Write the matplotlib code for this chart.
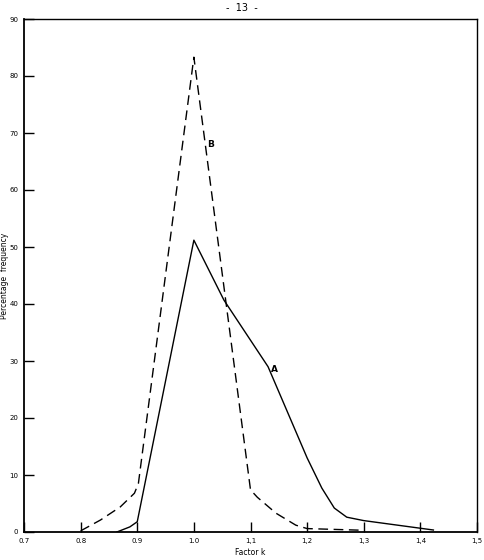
import matplotlib
matplotlib.use("Agg")
import matplotlib.pyplot as plt

# Curve A (solid)
a_x = [0.864, 0.887, 0.900, 1.000, 1.053, 1.131, 1.200, 1.226, 1.248, 1.270, 1.300, 1.423]
a_y = [0.0,   0.9,   1.8,   51.2,  40.7,  29.0,  13.0,  7.7,   4.2,   2.6,   2.0,   0.35]

# Curve B (dashed)
b_x = [0.800, 0.835, 0.870, 0.895, 0.902, 1.000, 1.100, 1.112, 1.145, 1.180, 1.200, 1.300]
b_y = [0.2,   2.1,   4.4,   6.8,   8.5,   83.3,  7.4,   6.1,   3.3,   1.2,   0.6,   0.3]

x_ticks = [0.7, 0.8, 0.9, 1.0, 1.1, 1.2, 1.3, 1.4, 1.5]
x_tick_labels = ["0.7", "0.8", "0.9", "1.0", "1,1", "1,2", "1,3", "1,4", "1,5"]
y_ticks = [0, 10, 20, 30, 40, 50, 60, 70, 80, 90]
y_tick_labels = ["0", "10", "20", "30", "40", "50", "60", "70", "80", "90"]

fig = plt.figure(figsize=(4.84, 5.6), dpi=100)
ax = fig.add_axes([24/484, 28/560, (477-24)/484, (532-19)/560])

ax.plot(a_x, a_y, color="black", lw=1.0, solid_joinstyle="round")
ax.plot(b_x, b_y, color="black", lw=1.0, linestyle=(0, (7, 4)))

ax.set_xlim(0.7, 1.5)
ax.set_ylim(0, 90)
ax.set_xticks(x_ticks)
ax.set_xticklabels(x_tick_labels)
ax.set_yticks(y_ticks)
ax.set_yticklabels(y_tick_labels)
ax.tick_params(direction="in", length=7.5, width=1.0, labelsize=5, pad=4,
               colors="black")
for s in ax.spines.values():
    s.set_linewidth(1.0)
ax.spines["left"].set_linewidth(1.3)
ax.spines["bottom"].set_linewidth(1.3)

ax.text(1.143, 28.5, "A", fontsize=6.5, fontweight="bold", ha="center", va="center")
ax.text(1.03, 68, "B", fontsize=6.5, fontweight="bold", ha="center", va="center")

ax.set_xlabel("Factor k", fontsize=5.5, labelpad=3)
ax.set_ylabel("Percentage  frequency", fontsize=5.5)
ax.yaxis.set_label_coords(-15/453, 0.5)
fig.text(0.5, 1 - 8/560, "-  13  -", ha="center", va="center", fontsize=7)

fig.savefig("out.png", dpi=100)
